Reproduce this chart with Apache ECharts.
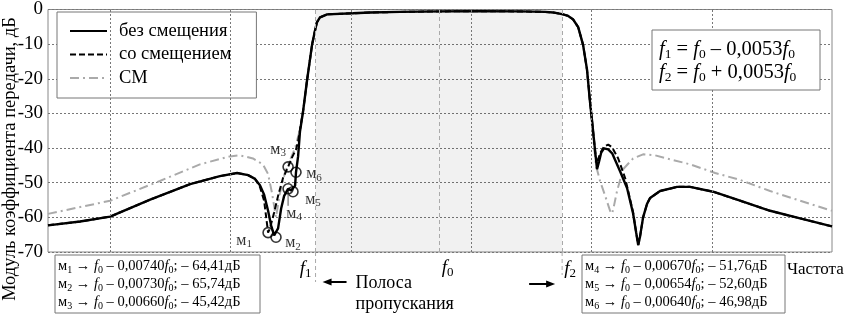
<!DOCTYPE html>
<html>
<head>
<meta charset="utf-8">
<script src="https://cdn.jsdelivr.net/npm/echarts@6/dist/echarts.min.js"></script>
<style>
html, body { margin: 0; padding: 0; background: #fff; }
#chart { width: 850px; height: 315px; }
</style>
</head>
<body>
<div id="chart"></div>
<script>
const FONT = '"Liberation Serif", "Times New Roman", serif';

// x: detuning (f - f0) / f0 * 1e3, y: dB
const bezSmesh = [
  [-16.8,-62.3],[-15.42,-61.2],[-14.13,-59.8],[-12.41,-54.9],[-10.69,-50.4],[-9.41,-48.1],[-8.67,-47.2],
  [-8.20,-47.8],[-7.90,-48.9],[-7.69,-50.7],[-7.51,-53.5],[-7.34,-58.1],[-7.21,-62.3],[-7.08,-65.2],
  [-7.00,-65.74],[-6.91,-63.2],[-6.78,-57.5],[-6.65,-53.8],[-6.48,-51.76],[-6.35,-52.2],[-6.27,-52.60],
  [-6.18,-50.9],[-6.14,-46.98],[-6.05,-42.4],[-5.97,-35.3],[-5.84,-29.6],[-5.66,-20.2],[-5.45,-10.2],
  [-5.32,-6.0],[-5.24,-3.7],[-5.11,-2.3],[-4.80,-1.4],[-3.69,-1.1],[-2.96,-0.85],[-1.67,-0.7],
  [0.05,-0.55],[1.77,-0.5],[3.49,-0.55],[4.57,-0.7],[4.91,-0.85],[5.34,-1.4],[5.56,-1.85],[5.77,-2.85],
  [5.99,-5.1],[6.20,-10.2],[6.37,-17.4],[6.50,-26.8],[6.59,-32.4],[6.72,-41.0],[6.80,-46.1],[6.89,-43.8],
  [6.98,-41.3],[7.10,-40.1],[7.28,-40.4],[7.45,-41.5],[7.79,-46.7],[8.09,-51.5],[8.35,-58.9],[8.48,-64.3],
  [8.57,-68.0],[8.65,-65.5],[8.78,-60.0],[8.95,-56.1],[9.08,-54.4],[9.51,-52.4],[10.24,-51.2],[10.80,-51.2],
  [11.79,-52.6],[12.95,-55.2],[14.24,-58.1],[15.53,-60.3],[16.9,-62.6]
];

const soSmesh = [
  [-16.8,-62.3],[-15.42,-61.2],[-14.13,-59.8],[-12.41,-54.9],[-10.69,-50.4],[-9.41,-48.1],[-8.67,-47.2],
  [-8.20,-47.8],[-7.90,-48.9],[-7.69,-51.2],[-7.51,-55.2],[-7.43,-59.5],[-7.34,-64.41],[-7.26,-63.2],
  [-7.08,-58.6],[-6.91,-53.8],[-6.70,-48.7],[-6.48,-45.42],[-6.31,-42.7],[-6.14,-40.4],[-6.05,-38.1],
  [-5.97,-34.7],[-5.84,-29.6],[-5.66,-20.2],[-5.45,-10.2],
  [-5.32,-6.0],[-5.24,-3.7],[-5.11,-2.3],[-4.80,-1.4],[-3.69,-1.1],[-2.96,-0.85],[-1.67,-0.7],
  [0.05,-0.55],[1.77,-0.5],[3.49,-0.55],[4.57,-0.7],[4.91,-0.85],[5.34,-1.4],[5.56,-1.85],[5.77,-2.85],
  [5.99,-5.1],[6.20,-10.2],[6.37,-17.4],[6.50,-26.8],[6.59,-32.4],[6.72,-41.0],[6.80,-44.4],[6.93,-41.5],
  [7.10,-39.6],[7.28,-39.0],[7.45,-39.8],[7.71,-43.0],[8.01,-48.7],[8.35,-58.5],[8.48,-64.3],
  [8.57,-68.0],[8.65,-65.5],[8.78,-60.0],[8.95,-56.1],[9.08,-54.4],[9.51,-52.4],[10.24,-51.2],[10.80,-51.2],
  [11.79,-52.6],[12.95,-55.2],[14.24,-58.1],[15.53,-60.3],[16.9,-62.6]
];

const smCurve = [
  [-16.8,-59.0],[-14.13,-55.2],[-11.99,-49.5],[-10.27,-44.7],[-8.98,-42.4],[-8.55,-42.1],[-7.99,-43.0],
  [-7.56,-44.7],[-7.34,-47.5],[-7.17,-53.0],[-7.00,-60.0],[-6.83,-53.0],[-6.61,-47.0],[-6.40,-43.5],
  [-6.18,-40.0],[-5.97,-34.7],[-5.84,-29.6],[-5.66,-20.2],[-5.45,-10.2],
  [-5.32,-6.0],[-5.24,-3.7],[-5.11,-2.3],[-4.80,-1.4],[-3.69,-1.1],[-2.96,-0.85],[-1.67,-0.7],
  [0.05,-0.55],[1.77,-0.5],[3.49,-0.55],[4.57,-0.7],[4.91,-0.85],[5.34,-1.4],[5.56,-1.85],[5.77,-2.85],
  [5.99,-5.1],[6.20,-10.2],[6.37,-17.4],[6.50,-26.8],[6.59,-33.9],[6.67,-39.6],[6.76,-45.2],[6.93,-49.5],
  [7.15,-53.8],[7.36,-58.1],[7.45,-58.9],[7.53,-56.6],[7.66,-52.4],[7.92,-46.1],[8.35,-43.0],[8.78,-41.8],
  [9.30,-42.1],[9.81,-43.0],[10.80,-44.7],[11.88,-47.2],[12.95,-49.2],[14.24,-52.4],[15.53,-55.2],[16.9,-58.1]
];

const seriesNames = ['без смещения', 'со смещением', 'СМ'];

const gridX = [-14.13, -8.98, -3.77, 1.39, 6.54, 11.75];
const fTicks = [-5.3, 0, 5.3];
const fTickNames = ['1', '0', '2'];

const markerIds = ['1', '2', '3', '4', '5', '6'];
const markerX = [-7.34, -7.00, -6.48, -6.48, -6.27, -6.14];
const markerY = [-64.41, -65.74, -45.42, -51.76, -52.60, -46.98];
const markerCoef = ['0,00740', '0,00730', '0,00660', '0,00670', '0,00654', '0,00640'];

const labelOffsets = [[-24, 8], [17, 6], [-10, -17], [6, 25], [20, 8], [18, 2]];

const chart = echarts.init(document.getElementById('chart'));

const richBase = {
  t: { fontFamily: FONT, fontSize: 14.5, color: '#000', lineHeight: 18 },
  i: { fontFamily: FONT, fontSize: 14.5, fontStyle: 'italic', color: '#000', lineHeight: 18 },
  s: { fontFamily: FONT, fontSize: 10, color: '#000', lineHeight: 8, verticalAlign: 'bottom' }
};

function markerRow(k) {
  const v = Math.abs(markerY[k]).toFixed(2).replace('.', ',');
  return '{t|м}{s|' + markerIds[k] + '}{t| → }{i|f}{s|0}{t| – ' + markerCoef[k] +
    '}{i|f}{s|0}{t|; – ' + v + 'дБ}';
}

const option = {
  animation: false,
  backgroundColor: '#fff',
  textStyle: { fontFamily: FONT },
  grid: {
    left: 48, right: 18, top: 6, bottom: 63,
    show: true, borderColor: '#888', borderWidth: 1, backgroundColor: '#fff'
  },
  legend: {
    left: 57, top: 12, orient: 'vertical',
    data: seriesNames,
    itemWidth: 37, itemHeight: 14, itemGap: 4.5,
    padding: [9.5, 25, 10.5, 12],
    backgroundColor: '#fff', borderColor: '#777', borderWidth: 1,
    itemStyle: { opacity: 0 },
    textStyle: { fontFamily: FONT, fontSize: 18.5, color: '#000', lineHeight: 18, padding: [0, 0, 0, 7] }
  },
  xAxis: {
    type: 'value', min: -16.8, max: 16.9,
    axisLine: { show: false }, axisTick: { show: false }, axisLabel: { show: false },
    splitLine: { show: false }
  },
  yAxis: {
    type: 'value', min: -70, max: 0, interval: 10,
    axisLine: { show: false }, axisTick: { show: false },
    axisLabel: { fontFamily: FONT, fontSize: 19, color: '#000', margin: 5 },
    splitLine: { lineStyle: { color: '#777', type: [2, 2], width: 1 } }
  },
  series: [
    {
      name: seriesNames[2], type: 'line', data: smCurve, symbol: 'none', z: 2,
      lineStyle: { color: '#aaa', width: 2, type: [9, 4, 2, 4] }, itemStyle: { color: '#aaa' },
      markArea: {
        silent: true,
        itemStyle: { color: 'rgba(0,0,0,0.055)' },
        data: [[{ xAxis: fTicks[0] }, { xAxis: fTicks[2] }]]
      },
      markLine: {
        silent: true, symbol: ['none', 'none'], label: { show: false },
        data: gridX.map(x => ({ xAxis: x, lineStyle: { color: '#777', type: [2, 2], width: 1 } }))
          .concat(fTicks.map(x => ({ xAxis: x, lineStyle: { color: '#aaa', type: [4, 3], width: 1 } })))
      }
    },
    {
      name: seriesNames[1], type: 'line', data: soSmesh, symbol: 'none', z: 3,
      lineStyle: { color: '#000', width: 2, type: [6, 3] }, itemStyle: { color: '#000' }
    },
    {
      name: seriesNames[0], type: 'line', data: bezSmesh, symbol: 'none', z: 4,
      lineStyle: { color: '#000', width: 2.4 }, itemStyle: { color: '#000' }
    },
    {
      name: 'markers', type: 'scatter', z: 5,
      symbol: 'circle', symbolSize: 10,
      itemStyle: { color: 'rgba(0,0,0,0)', borderColor: '#000', borderWidth: 1.6 },
      data: markerX.map((x, k) => ({
        value: [x, markerY[k]],
        label: { offset: labelOffsets[k] }
      })),
      label: {
        show: true, position: 'inside',
        formatter: p => '{m|м}{s|' + markerIds[p.dataIndex] + '}',
        rich: {
          m: { fontFamily: FONT, fontSize: 16, color: '#000', lineHeight: 18 },
          s: { fontFamily: FONT, fontSize: 11, color: '#000', lineHeight: 8, verticalAlign: 'bottom' }
        }
      }
    }
  ]
};

chart.setOption(option);

// annotation layer placed from the axis scales
const px = v => chart.convertToPixel({ gridIndex: 0 }, v);
const [xf1, yb] = px([fTicks[0], -70]);
const xf0 = px([fTicks[1], -70])[0];
const xf2 = px([fTicks[2], -70])[0];
const m4 = px([markerX[3], markerY[3]]);

function fLabel(k, x, y, align) {
  return {
    type: 'text', x: x, y: y, z: 10,
    style: {
      text: '{i|f}{s|' + fTickNames[k] + '}',
      align: align, verticalAlign: 'middle',
      rich: {
        i: { fontFamily: FONT, fontSize: 19, fontStyle: 'italic', color: '#000', lineHeight: 22 },
        s: { fontFamily: FONT, fontSize: 13, color: '#000', lineHeight: 10, verticalAlign: 'bottom' }
      }
    }
  };
}

const formulaRich = {
  t: { fontFamily: FONT, fontSize: 20.5, color: '#000', lineHeight: 23 },
  i: { fontFamily: FONT, fontSize: 20.5, fontStyle: 'italic', color: '#000', lineHeight: 23 },
  s: { fontFamily: FONT, fontSize: 13.5, color: '#000', lineHeight: 9, verticalAlign: 'bottom' }
};

chart.setOption({
  graphic: [
    {
      type: 'text', x: 10, y: 159, rotation: Math.PI / 2,
      style: { text: 'Модуль коэффициента передачи, дБ', font: '18.5px ' + FONT, fill: '#000', align: 'center', verticalAlign: 'middle' }
    },
    // leader from м4 down to its label
    { type: 'line', z: 10, shape: { x1: m4[0], y1: m4[1] + 5, x2: m4[0], y2: m4[1] + 17 }, style: { stroke: '#555', lineWidth: 1 } },
    // f1/f2 dash extensions below the plot
    { type: 'line', shape: { x1: xf1, y1: yb, x2: xf1, y2: yb + 30 }, style: { stroke: '#aaa', lineWidth: 1, lineDash: [4, 3] } },
    { type: 'line', shape: { x1: xf2, y1: yb, x2: xf2, y2: yb + 23 }, style: { stroke: '#aaa', lineWidth: 1, lineDash: [4, 3] } },
    fLabel(0, xf1 - 4, yb + 17, 'right'),
    fLabel(1, xf0 + 3, yb + 16, 'left'),
    fLabel(2, xf2 + 2, yb + 17, 'left'),
    // passband arrows
    { type: 'line', shape: { x1: xf1 + 14, y1: yb + 30, x2: xf1 + 31, y2: yb + 30 }, style: { stroke: '#000', lineWidth: 2 } },
    { type: 'polygon', shape: { points: [[xf1 + 7, yb + 30], [xf1 + 16, yb + 26.5], [xf1 + 16, yb + 33.5]] }, style: { fill: '#000' } },
    { type: 'line', shape: { x1: xf2 - 33, y1: yb + 32, x2: xf2 - 15, y2: yb + 32 }, style: { stroke: '#000', lineWidth: 2 } },
    { type: 'polygon', shape: { points: [[xf2 - 7, yb + 32], [xf2 - 16, yb + 28.5], [xf2 - 16, yb + 35.5]] }, style: { fill: '#000' } },
    {
      type: 'text', x: xf1 + 40, y: yb + 31,
      style: { text: 'Полоса', font: '18px ' + FONT, fill: '#000', align: 'left', verticalAlign: 'middle' }
    },
    {
      type: 'text', x: xf1 + 40, y: yb + 52,
      style: { text: 'пропускания', font: '18px ' + FONT, fill: '#000', align: 'left', verticalAlign: 'middle' }
    },
    {
      type: 'text', x: 787, y: yb + 18,
      style: { text: 'Частота', font: '17px ' + FONT, fill: '#000', align: 'left', verticalAlign: 'middle' }
    },
    // formula box
    {
      type: 'rect', shape: { x: 652, y: 30, width: 168, height: 60 }, z: 20,
      style: { fill: '#fff', stroke: '#777', lineWidth: 1 }
    },
    {
      type: 'text', x: 659, y: 61, z: 21,
      style: {
        text: '{i|f}{s|1}{t| = }{i|f}{s|0}{t| – 0,0053}{i|f}{s|0}\n{i|f}{s|2}{t| = }{i|f}{s|0}{t| + 0,0053}{i|f}{s|0}',
        align: 'left', verticalAlign: 'middle', rich: formulaRich
      }
    },
    // marker tables
    {
      type: 'rect', shape: { x: 55, y: 255, width: 205, height: 58 }, z: 20,
      style: { fill: '#fff', stroke: '#777', lineWidth: 1 }
    },
    {
      type: 'text', x: 58, y: 284, z: 21,
      style: { text: [0, 1, 2].map(markerRow).join('\n'), align: 'left', verticalAlign: 'middle', rich: richBase }
    },
    {
      type: 'rect', shape: { x: 582, y: 255, width: 203, height: 58 }, z: 20,
      style: { fill: '#fff', stroke: '#777', lineWidth: 1 }
    },
    {
      type: 'text', x: 585, y: 284, z: 21,
      style: { text: [3, 4, 5].map(markerRow).join('\n'), align: 'left', verticalAlign: 'middle', rich: richBase }
    }
  ]
});
</script>
</body>
</html>
